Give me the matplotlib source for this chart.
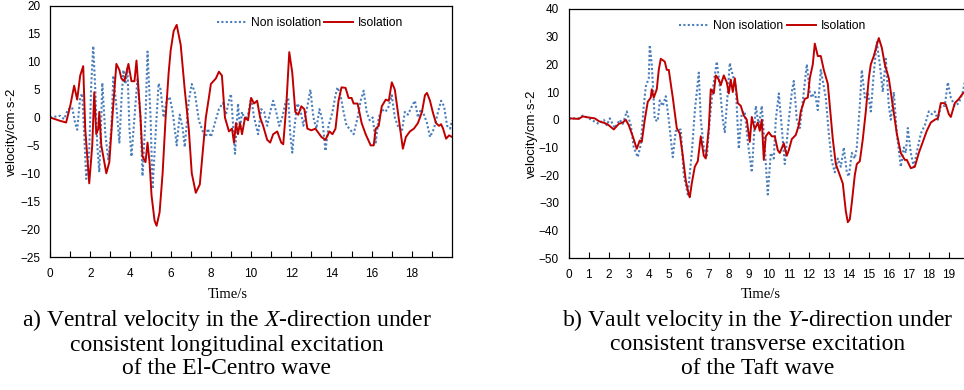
import numpy as np
import matplotlib.pyplot as plt

# ---- digitised values (time s, velocity) ----
# a) El-Centro, X-direction
a_iso_t = [0, 0.5, 0.8, 1.0, 1.2, 1.35, 1.5, 1.65, 1.75, 1.95, 2.1, 2.2, 2.3, 2.4, 2.45,
           2.55, 2.7, 2.8, 2.95, 3.1, 3.3, 3.45, 3.55, 3.7, 3.9, 4.05, 4.2, 4.3, 4.5, 4.6,
           4.75, 4.85, 4.95, 5.05, 5.2, 5.3, 5.45, 5.6, 5.75, 5.9, 6.0, 6.15, 6.3, 6.5, 6.7,
           6.9, 7.05, 7.25, 7.45, 7.6, 7.75, 7.9, 8.0, 8.25, 8.4, 8.55, 8.7, 8.9, 9.05, 9.15,
           9.25, 9.35, 9.45, 9.55, 9.7, 9.85, 10.0, 10.15, 10.3, 10.45, 10.6, 10.8, 10.95,
           11.1, 11.3, 11.5, 11.6, 11.75, 11.9, 12.05, 12.2, 12.35, 12.5, 12.65, 12.8, 13.0,
           13.2, 13.5, 13.7, 13.9, 14.05, 14.2, 14.35, 14.5, 14.7, 14.85, 15.0, 15.1, 15.3,
           15.5, 15.7, 15.95, 16.1, 16.2, 16.35, 16.5, 16.7, 16.85, 17.0, 17.15, 17.3, 17.45,
           17.55, 17.7, 17.9, 18.1, 18.3, 18.5, 18.65, 18.75, 18.9, 19.05, 19.2, 19.35, 19.45,
           19.55, 19.7, 19.85, 20.0]
a_iso_v = [0, -0.6, -0.9, 2, 5.7, 3.2, 7.5, 9.2, -2, -11.8, -5, 4.5, -3, -2, 1,
           -5, -8, -10, -8, 0, 9.6, 8.5, 7, 6.5, 9.6, 6.5, 6.5, 10.2, 0, -7,
           -8, -4.5, -8, -14, -18.5, -19.4, -17, -10, 0, 8, 12, 15.5, 16.6, 13, 5,
           -2, -10, -13.5, -12, -6, 0, 3.5, 6, 7, 8.2, 7.5, 0, -2.5, -2, -4.5,
           -1, -3, -1, -3, 0, -0.5, 3.5, 2.5, 3, 0, -1.5, -4, -4.5,
           -3, -2.5, -4.5, -4.8, 2, 11.7, 8, 1, 0.5, 2, 1.5, -2, -2.3,
           -2, -3.5, -4, -2.5, -3, -2, 3, 5.4, 5.3, 3.5, 3.5, 2.5, 2.5,
           -1, -3, -5, -5, -2, -1.5, 2, 3.2, 3, 6.3, 5, 1, -3,
           -5.6, -3.5, -2.5, -2, -1, 1, 4, 4.4, 3, 0.8, -1, -1.5, -1.2,
           -2, -3.8, -3.2, -3.5]

a_non_t = [0, 0.5, 0.7, 0.9, 1.1, 1.25, 1.35, 1.5, 1.6, 1.7, 1.8, 1.95, 2.05, 2.15, 2.25,
           2.35, 2.45, 2.55, 2.6, 2.75, 2.9, 3.05, 3.15, 3.3, 3.45, 3.55, 3.65, 3.75, 3.85,
           3.95, 4.05, 4.2, 4.35, 4.5, 4.6, 4.75, 4.85, 5.0, 5.1, 5.25, 5.4, 5.5, 5.65, 5.8,
           5.95, 6.1, 6.3, 6.45, 6.6, 6.7, 6.9, 7.05, 7.2, 7.4, 7.6, 7.75, 7.85, 8.0, 8.2,
           8.4, 8.6, 8.75, 8.9, 9.0, 9.1, 9.2, 9.35, 9.45, 9.55, 9.7, 9.85, 10.0, 10.15,
           10.35, 10.5, 10.65, 10.8, 10.95, 11.1, 11.25, 11.4, 11.55, 11.7, 11.85, 11.95,
           12.05, 12.15, 12.3, 12.45, 12.6, 12.8, 12.95, 13.1, 13.25, 13.4, 13.55, 13.7,
           13.85, 14.05, 14.2, 14.3, 14.45, 14.6, 14.75, 14.9, 15.1, 15.3, 15.45, 15.6,
           15.75, 15.9, 16.05, 16.2, 16.35, 16.5, 16.65, 16.8, 17.0, 17.15, 17.3, 17.5,
           17.65, 17.8, 18.0, 18.15, 18.3, 18.45, 18.6, 18.75, 18.9, 19.1, 19.3, 19.45,
           19.6, 19.75, 19.9, 20.0]
a_non_v = [0, 0.3, -0.3, 1.5, 1.8, -1, -2.2, 3.6, 4.3, -3, -11, -6, 6, 12.8, 5,
           -5, -9.8, 0, 6.2, -3, -7.5, -2, 7.5, 2, -4.5, 3, 8.5, 6, 8.8,
           -2, -7, 0, 7, 0, -10.5, 0, 11.8, 0, -12.8, -3, 6.1, 5, 0, 3,
           3.7, 1, -5, 0.5, -2, -5.3, 3, 6, 4.5, -0.5, -2.5, -3.5, -2, -3.5, -1,
           1.5, 2.6, 0.5, 3, 4.2, -1, -6.5, 2.5, -2, 1, -0.5, 0.5, 3.5, 0,
           -3, 1.5, 1, -1.5, 1, 3, 1, -1.5, 0, 2.5, 3.5, -3,
           -6.3, -2, 2.5, 1.5, -1.5, 2, 5, 0, -2, 1.5, -0.5, -6,
           -1.5, 1, 4, 5.4, 4, 1, -1.5, -2, -3, 0, 3, 4.8,
           1, -0.5, 0, -4.5, 0, 1.5, 1, 1.5, 4, 0, -1.5, -2.5,
           1, 0.5, 2, 3, 0, 1.5, 0.5, -1, -3.5, -2, 1, 3,
           2, -1.5, -2, -0.5]

# b) Taft, Y-direction
b_iso_t = [0, 0.5, 0.7, 1.0, 1.3, 1.5, 1.7, 1.9, 2.0, 2.25, 2.5, 2.7, 2.85, 3.0, 3.2,
           3.4, 3.55, 3.65, 3.8, 3.95, 4.1, 4.15, 4.25, 4.4, 4.5, 4.6, 4.8, 4.9, 5.0, 5.2,
           5.4, 5.55, 5.7, 5.85, 6.0, 6.05, 6.15, 6.3, 6.45, 6.6, 6.75, 6.85, 7.0, 7.1, 7.25,
           7.35, 7.5, 7.6, 7.75, 7.9, 8.0, 8.1, 8.2, 8.3, 8.45, 8.6, 8.75, 8.9, 9.05, 9.15,
           9.3, 9.45, 9.55, 9.65, 9.75, 9.85, 10.0, 10.15, 10.3, 10.45, 10.55, 10.75, 10.9,
           11.0, 11.15, 11.35, 11.5, 11.6, 11.8, 11.95, 12.05, 12.2, 12.3, 12.45, 12.6, 12.75,
           12.95, 13.05, 13.2, 13.35, 13.55, 13.7, 13.85, 13.95, 14.05, 14.15, 14.3, 14.4,
           14.55, 14.7, 14.85, 15.0, 15.1, 15.25, 15.4, 15.5, 15.65, 15.8, 16.0, 16.2, 16.4,
           16.6, 16.8, 16.9, 17.1, 17.3, 17.5, 17.7, 17.9, 18.1, 18.3, 18.45, 18.6, 18.75,
           18.85, 19.0, 19.1, 19.3, 19.5, 19.7, 19.9, 20.0]
b_iso_v = [0.5, 0.3, 1.2, 0.8, 0.5, -0.5, -1, -1.5, -2, -3.5, -1.5, -1, 0, -2, -6,
           -10.5, -7.5, -8, 0, 6.5, 8, 11, 8, 11, 18, 22, 21, 18, 18, 8,
           -3, -5, -13, -22, -27, -28, -23, -17, -15, -6, -13, -14, -3, 11, 9.5,
           16, 14.5, 12.5, 16, 13.5, 9.5, 14.5, 10, 15, 6, 5, 1.5, 0, -8, 1,
           -3.5, -1, -4, 0, -14.5, -6, -4.5, -6, -6, -11, -12, -8.5, -13,
           -11, -7, -5.5, -2, 3, 7.5, 8, 15, 20, 27.5, 23, 23, 18,
           13, 5, -7, -16, -20, -23, -33, -37, -36, -30, -20, -16,
           -15, -7, 3, 15, 20, 23, 27, 29.5, 26, 20, 15, 5, -5,
           -12, -14.5, -14.5, -17.5, -17, -12, -8, -4, -1, 0, 0.5, 6, 6,
           5.5, 2, 1, 6, 7.5, 9.5, 10, 9.5]

b_non_t = [0, 0.5, 0.7, 1.0, 1.5, 1.75, 1.9, 2.05, 2.3, 2.55, 2.7, 2.9, 3.1, 3.25, 3.45,
           3.6, 3.75, 3.85, 4.0, 4.05, 4.15, 4.3, 4.45, 4.55, 4.7, 4.85, 5.0, 5.2, 5.35, 5.6,
           5.75, 5.95, 6.15, 6.3, 6.5, 6.6, 6.75, 6.9, 7.05, 7.2, 7.4, 7.55, 7.7, 7.8, 7.95,
           8.05, 8.2, 8.35, 8.5, 8.65, 8.8, 8.95, 9.15, 9.35, 9.5, 9.65, 9.8, 9.95, 10.1,
           10.25, 10.35, 10.5, 10.65, 10.8, 11.0, 11.15, 11.25, 11.4, 11.55, 11.75, 11.9,
           12.05, 12.15, 12.3, 12.45, 12.6, 12.75, 12.85, 13.0, 13.15, 13.3, 13.45, 13.6,
           13.75, 13.9, 14.0, 14.15, 14.3, 14.4, 14.55, 14.65, 14.8, 14.95, 15.1, 15.25,
           15.4, 15.55, 15.7, 15.85, 16.0, 16.1, 16.25, 16.4, 16.6, 16.75, 16.85, 16.95,
           17.1, 17.25, 17.45, 17.6, 17.8, 18.0, 18.15, 18.3, 18.45, 18.6, 18.8, 18.95,
           19.1, 19.3, 19.5, 19.7, 19.85, 20.0]
b_non_v = [0.5, 0.5, 1.5, 0.5, -1.5, 0, -2, 0.5, -3, 0, -1.5, 3, -2, -10, -13.5,
           -9, 5, 12, 15, 27, 20, 0, -0.5, 7, 5, 8.5, 0, -13.5, -4, -3.5,
           -20, -27, -12, 3, 17, 0, -10, -13.5, 0, 11, 21, 12, 0, -4.5, 10,
           20.5, 16, 12, -10.5, 2.5, 3, -8, -19, 5, -2, 5, -10, -27, -12,
           -14, 0, 9.5, -3, -16, 0, 10, 14, 0, -3, 10, 20,
           10, 8, 10, 3.5, 18, 12, 8, -5, -15, -19, -14, -17,
           -10, -19, -20.5, -12, -14, -10, 5, 18, 8, 10, 3, 17,
           28, 20, 10, 22, 5, 0, 10, -5, -17, -10, -12, -3,
           -12, -17, -10, -5, -2, 3, 2, 3, 0, 5, 5, 13.5,
           8, 5, 6, 10, 15.5, 0]

BLUE = '#4a7ebb'
RED = '#c00000'
SANS = 'Liberation Sans'
SERIF = 'Liberation Serif'

plt.rcParams['font.family'] = SANS
plt.rcParams['mathtext.fontset'] = 'custom'
plt.rcParams['mathtext.it'] = 'Liberation Serif:italic'
plt.rcParams['mathtext.rm'] = 'Liberation Serif'
fig = plt.figure(figsize=(9.64, 3.9), dpi=100)

ax1 = fig.add_axes([0.0519, 0.341, 0.4171, 0.644])
ax2 = fig.add_axes([0.590, 0.338, 0.415, 0.639])

panels = [
    (ax1, a_non_t, a_non_v, a_iso_t, a_iso_v, (-25, 20), 5, True, 0.647, -0.094),
    (ax2, b_non_t, b_non_v, b_iso_t, b_iso_v, (-50, 40), 10, False, 0.51, -0.093),
]
for ax, nt, nv, it, iv, ylim, ystep, even_only, leg_x, lab_x in panels:
    ax.plot(nt, nv, color=BLUE, linestyle=(0, (1, 1.1)), linewidth=1.5, label='Non isolation')
    ax.plot(it, iv, color=RED, linewidth=1.4, label='Isolation')
    ax.set_xlim(0, 20)
    ax.set_ylim(*ylim)
    ax.set_yticks(np.arange(ylim[0], ylim[1] + 1, ystep))
    ticks = list(range(0, 20))
    ax.set_xticks(ticks)
    if even_only:
        ax.set_xticklabels([str(t) if t % 2 == 0 else '' for t in ticks])
    ax.tick_params(axis='x', direction='in', length=4, width=0.8, labelsize=8.5, pad=8)
    ax.tick_params(axis='y', length=0, labelsize=8.5, pad=7)
    for sp in ax.spines.values():
        sp.set_linewidth(0.9)
    ax.set_ylabel('velocity/cm·s-2', fontsize=9.5, va='center')
    ax.yaxis.set_label_coords(lab_x, 0.5)
    ax.legend(loc='center', bbox_to_anchor=(leg_x, 0.932), ncol=2, frameon=False,
              fontsize=8.7, handlelength=2.4, columnspacing=0.3, handletextpad=0.4)

fig.text(228 / 964, 1 - 295 / 390, 'Time/s', family=SERIF, fontsize=10.5, ha='center', va='center')
fig.text(761 / 964, 1 - 295 / 390, 'Time/s', family=SERIF, fontsize=10.5, ha='center', va='center')

cap_a = ['a) Ventral velocity in the $\\it{X}$-direction under',
         'consistent longitudinal excitation', 'of the El-Centro wave']
cap_b = ['b) Vault velocity in the $\\it{Y}$-direction under',
         'consistent transverse excitation', 'of the Taft wave']
for i, y in enumerate([320, 345, 368]):
    fig.text(227 / 964, 1 - y / 390, cap_a[i], family=SERIF, fontsize=17, ha='center', va='center')
    fig.text(758 / 964, 1 - y / 390, cap_b[i], family=SERIF, fontsize=17, ha='center', va='center')

fig.savefig('out.png', dpi=100)
